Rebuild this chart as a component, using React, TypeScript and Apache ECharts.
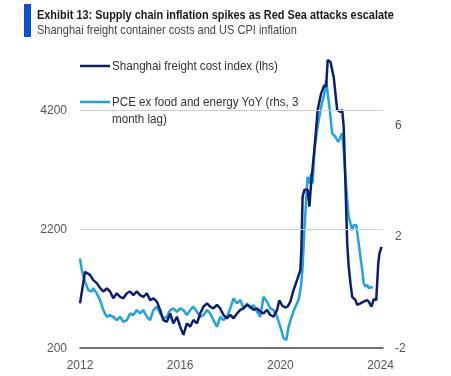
import React, { useEffect, useRef } from "react";
import * as echarts from "echarts";

// Shanghai freight cost index (lhs) — decimal year / index value
const freightYears = [
  2012.0, 2012.2, 2012.4, 2012.53, 2012.67, 2012.8, 2012.93, 2013.07, 2013.2, 2013.33,
  2013.47, 2013.6, 2013.73, 2013.87, 2014.0, 2014.13, 2014.27, 2014.4, 2014.53, 2014.67,
  2014.8, 2014.93, 2015.07, 2015.2, 2015.33, 2015.47, 2015.6, 2015.73, 2015.87, 2016.0,
  2016.13, 2016.27, 2016.4, 2016.53, 2016.67, 2016.8, 2016.93, 2017.07, 2017.2, 2017.33,
  2017.47, 2017.6, 2017.73, 2017.87, 2018.0, 2018.13, 2018.27, 2018.4, 2018.53, 2018.67,
  2018.8, 2018.93, 2019.07, 2019.2, 2019.33, 2019.47, 2019.6, 2019.73, 2019.87, 2019.96,
  2020.08, 2020.2, 2020.3, 2020.4, 2020.53, 2020.67, 2020.8, 2020.84, 2020.89, 2020.96,
  2021.09, 2021.16, 2021.23, 2021.36, 2021.49, 2021.63, 2021.76, 2021.83, 2021.89, 2022.0,
  2022.13, 2022.2, 2022.27, 2022.4, 2022.47, 2022.53, 2022.6, 2022.67, 2022.73, 2022.8,
  2022.87, 2023.0, 2023.07, 2023.2, 2023.33, 2023.47, 2023.53, 2023.64, 2023.73, 2023.83,
  2023.91, 2023.96, 2024.04,
];
const freightValues = [
  950, 1480, 1430, 1340, 1290, 1210, 1150, 1200, 1150, 1035,
  1120, 1060, 1035, 1120, 1150, 1090, 1150, 1090, 1060, 1120,
  1005, 1035, 980, 840, 670, 640, 780, 615, 725, 560,
  420, 615, 560, 670, 615, 780, 895, 950, 895, 865,
  925, 865, 755, 700, 755, 700, 780, 840, 865, 925,
  895, 840, 865, 810, 780, 840, 755, 725, 840, 1000,
  910, 880, 900, 980, 1175, 1345, 1510, 1850, 2740, 2860,
  2860, 2575, 2970, 3530, 4200, 4480, 4620, 4590, 5040, 5010,
  4760, 4480, 4200, 4170, 4200, 3920, 2970, 1960, 1570, 1290,
  1060, 1005, 925, 950, 980, 1005, 980, 895, 1020, 1005,
  1620, 1790, 1900,
];

// PCE ex food and energy YoY (rhs, 3 month lag) — decimal year / %
const pceYears = [
  2012.0, 2012.07, 2012.2, 2012.33, 2012.47, 2012.53, 2012.67, 2012.8, 2012.93, 2013.07,
  2013.2, 2013.33, 2013.47, 2013.6, 2013.73, 2013.87, 2014.0, 2014.13, 2014.27, 2014.4,
  2014.53, 2014.67, 2014.8, 2014.93, 2015.07, 2015.2, 2015.33, 2015.47, 2015.6, 2015.73,
  2015.87, 2016.0, 2016.13, 2016.27, 2016.4, 2016.53, 2016.67, 2016.8, 2016.93, 2017.07,
  2017.2, 2017.33, 2017.47, 2017.6, 2017.73, 2017.87, 2018.0, 2018.13, 2018.27, 2018.4,
  2018.53, 2018.67, 2018.8, 2018.93, 2019.07, 2019.2, 2019.33, 2019.47, 2019.6, 2019.73,
  2019.87, 2020.0, 2020.13, 2020.24, 2020.33, 2020.47, 2020.6, 2020.73, 2020.83, 2020.89,
  2020.96, 2021.03, 2021.09, 2021.16, 2021.23, 2021.29, 2021.36, 2021.49, 2021.63, 2021.76,
  2021.83, 2021.89, 2021.96, 2022.07, 2022.2, 2022.31, 2022.4, 2022.47, 2022.53, 2022.6,
  2022.67, 2022.73, 2022.8, 2022.87, 2022.93, 2023.03, 2023.13, 2023.2, 2023.27, 2023.33,
  2023.4, 2023.47, 2023.53, 2023.6, 2023.69,
];
const pceValues = [
  1.21, 0.8, 0.38, 0.08, 0.02, 0.14, -0.04, -0.28, -0.64, -0.88,
  -0.82, -0.88, -1.0, -0.88, -1.06, -1.0, -0.76, -0.82, -0.64, -0.76,
  -0.64, -0.88, -1.0, -0.64, -0.52, -0.76, -0.94, -0.88, -0.64, -0.58,
  -0.7, -0.58, -0.64, -0.82, -0.64, -0.52, -0.7, -0.88, -0.82, -0.64,
  -0.76, -1.0, -1.24, -0.88, -1.0, -0.88, -0.58, -0.22, -0.4, -0.28,
  -0.58, -0.4, -0.58, -0.46, -0.7, -0.88, -0.16, -0.34, -0.58, -0.64,
  -0.88, -1.24, -1.65, -1.71, -1.24, -0.82, -0.52, -0.28, 0.26, 0.91,
  2.23, 3.3, 4.14, 3.9, 4.26, 3.9, 5.1, 5.93, 6.65, 7.13,
  7.61, 7.13, 6.65, 5.7, 5.57, 5.39, 5.57, 5.7, 5.1, 4.14,
  3.3, 2.71, 2.47, 2.23, 2.41, 2.41, 1.75, 1.27, 0.8, 0.32,
  0.2, 0.26, 0.14, 0.2, 0.14,
];

const xTicks = [2012, 2016, 2020, 2024];
const leftGridValues = [2200, 4200];

const TITLE = "Exhibit 13: Supply chain inflation spikes as Red Sea attacks escalate";
const SUBTITLE = "Shanghai freight container costs and US CPI inflation";
const NAME_FREIGHT = "Shanghai freight cost index (lhs)";
const NAME_PCE = "PCE ex food and energy YoY (rhs, 3";
const NAME_PCE_2 = "month lag)";

const FONT = "'Liberation Sans', Arial, sans-serif";
const DARK = "#0c1f6e";
const LIGHT = "#1fa3e3";

export default function App() {
  const ref = useRef<HTMLDivElement>(null);
  useEffect(() => {
    if (!ref.current) return;
    const chart = echarts.init(ref.current, null, { renderer: "svg" });
    const freight = freightYears.map((x, i) => [x, freightValues[i]]);
    const pce = pceYears.map((x, i) => [x, pceValues[i]]);
    const txt = (text: string, x: number, y: number, size: number, color: string, scaleX: number, bold = false) => ({
      type: "text",
      x,
      y,
      scaleX,
      silent: true,
      style: {
        text,
        fontFamily: FONT,
        fontSize: size,
        fontWeight: bold ? "bold" : "normal",
        fill: color,
        textAlign: "left",
        textVerticalAlign: "middle",
        verticalAlign: "middle",
      },
    });
    chart.setOption({
      animation: false,
      textStyle: { fontFamily: FONT },
      graphic: [
        { type: "rect", shape: { x: 24, y: 4, width: 7, height: 33 }, style: { fill: "#0a50d2" } },
        txt(TITLE, 37, 15, 13, "#1a1a1a", 0.84, true),
        txt(SUBTITLE, 37, 29.5, 12, "#444", 0.92),
        { type: "line", shape: { x1: 80, y1: 66, x2: 110, y2: 66 }, style: { stroke: DARK, lineWidth: 2.5 } },
        txt(NAME_FREIGHT, 112, 65.5, 12.5, "#333", 0.93),
        { type: "line", shape: { x1: 80, y1: 102, x2: 110, y2: 102 }, style: { stroke: LIGHT, lineWidth: 2.5 } },
        txt(NAME_PCE, 112, 101.5, 12.5, "#333", 0.93),
        txt(NAME_PCE_2, 112, 118.5, 12.5, "#333", 0.93),
      ],
      grid: { left: 80, right: 68, top: 50.5, bottom: 28 },
      xAxis: {
        type: "value",
        min: xTicks[0],
        max: 2024.1,
        interval: 4,
        axisLine: { onZero: false, lineStyle: { color: "#444", width: 1.5 } },
        axisTick: { show: false },
        splitLine: { show: false },
        axisLabel: {
          margin: 11,
          color: "#555",
          fontSize: 12,
          fontFamily: FONT,
          formatter: (v: number) => (xTicks.includes(v) ? String(v) : ""),
        },
      },
      yAxis: [
        {
          type: "value",
          min: 200,
          max: 5200,
          interval: 2000,
          axisLine: { show: false },
          axisTick: { show: false },
          splitLine: { show: false },
          axisLabel: {
            margin: 13,
            color: "#555",
            fontSize: 12,
            fontFamily: FONT,
            showMaxLabel: false,
            formatter: (v: number) => String(v),
          },
        },
        {
          type: "value",
          min: -2,
          max: 8.67,
          interval: 4,
          axisLine: { show: false },
          axisTick: { show: false },
          splitLine: { show: false },
          axisLabel: {
            margin: 12,
            color: "#555",
            fontSize: 12,
            fontFamily: FONT,
            showMaxLabel: false,
            formatter: (v: number) => String(v),
          },
        },
      ],
      series: [
        {
          name: "grid",
          type: "line",
          yAxisIndex: 0,
          data: [],
          z: 1,
          silent: true,
          markLine: {
            silent: true,
            symbol: "none",
            label: { show: false },
            lineStyle: { color: "#cfcfcf", type: "solid", width: 1 },
            data: leftGridValues.map((v) => ({ yAxis: v })),
          },
        },
        {
          name: NAME_PCE,
          type: "line",
          yAxisIndex: 1,
          data: pce,
          showSymbol: false,
          z: 2,
          lineStyle: { color: LIGHT, width: 2.5 },
          itemStyle: { color: LIGHT },
        },
        {
          name: NAME_FREIGHT,
          type: "line",
          yAxisIndex: 0,
          data: freight,
          showSymbol: false,
          z: 3,
          lineStyle: { color: DARK, width: 2.5 },
          itemStyle: { color: DARK },
        },
      ],
    });
    return () => chart.dispose();
  }, []);
  return <div ref={ref} style={{ position: "fixed", left: 0, top: 0, width: 451, height: 376 }} />;
}
